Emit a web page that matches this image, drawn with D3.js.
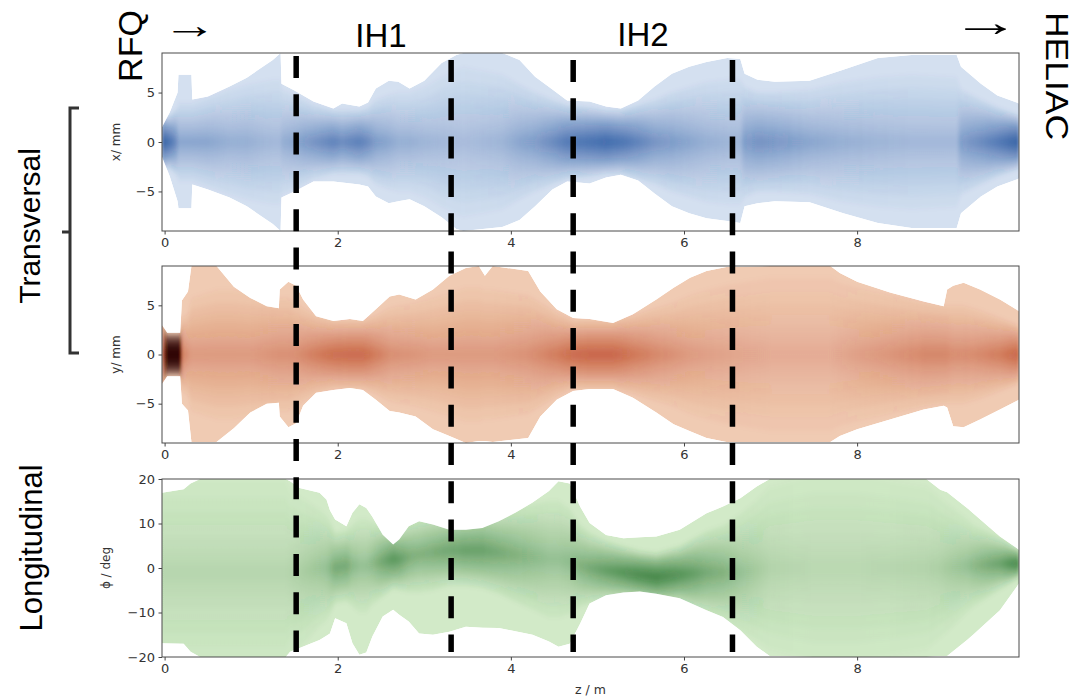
<!DOCTYPE html>
<html>
<head>
<meta charset="utf-8">
<script src="https://cdn.jsdelivr.net/npm/d3@7"></script>
<style>
body { margin: 0; background: #fff; }
svg { display: block; }
.tick text { font-family: "DejaVu Sans", sans-serif; font-size: 13px; fill: #333; }
.tick line { stroke: #444; }
.big { font-family: "Liberation Sans", Arial, sans-serif; fill: #000; }
</style>
</head>
<body>
<div id="chart"></div>
<script>
// ---- x plane (blue): z / m, envelope edges in mm, dense core half-width and core intensity
const xZ     = [-0.03, 0.06, 0.15, 0.16, 0.31, 0.32, 0.5, 0.75, 0.95, 1.1, 1.25, 1.34, 1.35, 1.5, 1.72, 1.95, 2.05, 2.25, 2.35, 2.44, 2.59, 2.7, 2.83, 3.0, 3.2, 3.37, 3.45, 3.9, 4.1, 4.28, 4.48, 4.65, 4.91, 5.1, 5.27, 5.47, 5.66, 5.86, 6.06, 6.26, 6.5, 6.65, 6.7, 6.85, 7.05, 7.45, 7.84, 8.24, 8.63, 9.15, 9.2, 9.43, 9.62, 9.87];
const xUpper = [1.5, 3.0, 5.0, 6.8, 6.8, 4.3, 4.6, 5.6, 6.5, 7.4, 8.3, 9.0, 5.9, 5.2, 4.1, 3.4, 3.9, 3.6, 4.0, 5.4, 6.2, 6.1, 5.4, 6.2, 8.0, 8.8, 9.0, 9.0, 8.3, 6.6, 5.3, 4.2, 4.1, 3.6, 3.4, 4.2, 5.6, 6.9, 7.6, 8.1, 8.5, 8.4, 6.9, 6.3, 6.1, 6.2, 7.3, 8.5, 8.8, 8.8, 7.6, 5.9, 4.7, 3.9];
const xLower = [-1.5, -3.5, -6.0, -6.7, -6.7, -4.3, -4.8, -5.6, -6.5, -7.4, -8.3, -9.0, -5.6, -5.0, -4.0, -4.0, -4.1, -4.3, -4.5, -5.5, -6.2, -6.0, -5.8, -6.5, -7.6, -8.8, -9.0, -8.6, -7.9, -6.5, -4.8, -4.0, -4.2, -3.6, -3.3, -3.9, -5.2, -6.5, -7.2, -7.7, -8.0, -8.2, -6.5, -6.2, -6.0, -6.1, -7.2, -8.2, -8.7, -8.7, -7.2, -5.5, -4.5, -3.7];
const xCore  = [1.0, 1.0, 1.3, 1.5, 1.5, 1.5, 1.7, 2.0, 2.2, 2.3, 2.4, 2.4, 2.0, 1.8, 1.4, 1.2, 1.2, 1.2, 1.3, 1.6, 1.8, 1.9, 1.9, 2.1, 2.5, 2.8, 2.9, 2.6, 2.2, 1.9, 1.6, 1.4, 1.3, 1.2, 1.2, 1.4, 1.6, 1.9, 2.1, 2.3, 2.4, 2.4, 2.1, 1.9, 1.9, 2.0, 2.3, 2.5, 2.6, 2.5, 2.0, 1.6, 1.3, 1.0];
const xPeak  = [0.9, 0.8, 0.6, 0.5, 0.5, 0.5, 0.5, 0.45, 0.45, 0.42, 0.4, 0.4, 0.45, 0.5, 0.6, 0.7, 0.65, 0.72, 0.65, 0.55, 0.5, 0.45, 0.45, 0.42, 0.4, 0.38, 0.37, 0.42, 0.5, 0.55, 0.65, 0.75, 0.8, 0.85, 0.8, 0.7, 0.6, 0.55, 0.5, 0.45, 0.42, 0.42, 0.55, 0.6, 0.58, 0.5, 0.45, 0.42, 0.4, 0.4, 0.55, 0.65, 0.75, 0.9];

// ---- y plane (red)
const yZ     = [-0.03, 0.03, 0.18, 0.2, 0.27, 0.31, 0.6, 0.8, 0.99, 1.18, 1.32, 1.33, 1.43, 1.52, 1.6, 1.75, 1.95, 2.14, 2.29, 2.44, 2.6, 2.71, 2.9, 3.1, 3.29, 3.48, 3.63, 3.7, 3.79, 4.2, 4.34, 4.53, 4.72, 4.91, 5.18, 5.41, 5.68, 5.88, 6.07, 6.26, 6.49, 7.0, 7.69, 7.8, 8.0, 8.38, 8.77, 9.0, 9.04, 9.11, 9.23, 9.42, 9.65, 9.87];
const yUpper = [3.0, 2.2, 2.2, 5.5, 6.4, 9.0, 9.0, 6.9, 5.75, 4.9, 4.7, 6.6, 7.4, 7.0, 5.6, 3.9, 3.4, 3.6, 3.4, 4.6, 5.9, 6.1, 5.6, 6.6, 8.0, 8.8, 9.0, 8.0, 9.0, 8.5, 6.4, 4.6, 3.7, 3.6, 3.2, 4.1, 5.6, 6.8, 7.8, 8.5, 8.9, 9.0, 9.0, 8.3, 7.4, 6.3, 5.4, 4.9, 6.6, 7.0, 7.3, 6.6, 5.6, 4.4];
const yLower = [-3.0, -2.2, -2.2, -5.0, -5.7, -8.9, -8.9, -7.5, -5.9, -5.0, -4.9, -6.3, -7.4, -7.0, -5.2, -3.9, -3.6, -3.4, -3.6, -4.6, -5.75, -5.9, -6.3, -7.6, -8.3, -9.0, -8.8, -8.8, -8.9, -8.5, -6.3, -4.6, -3.7, -3.5, -3.5, -4.4, -5.9, -7.1, -7.8, -8.5, -8.9, -8.9, -8.9, -8.3, -7.6, -6.6, -5.6, -5.2, -5.4, -7.3, -7.4, -6.6, -5.6, -4.6];
const yCore  = [1.5, 0.8, 0.8, 1.4, 1.6, 2.2, 2.5, 2.5, 2.4, 2.3, 2.2, 2.2, 2.2, 2.0, 1.8, 1.5, 1.3, 1.3, 1.3, 1.5, 1.8, 1.9, 2.0, 2.2, 2.4, 2.6, 2.6, 2.5, 2.5, 2.3, 2.0, 1.6, 1.3, 1.3, 1.3, 1.5, 1.8, 2.0, 2.3, 2.5, 2.7, 3.0, 3.0, 2.8, 2.6, 2.3, 2.0, 1.9, 1.9, 1.9, 1.9, 1.7, 1.4, 1.1];
const yPeak  = [0.6, 1.3, 1.3, 0.6, 0.5, 0.45, 0.45, 0.45, 0.45, 0.48, 0.5, 0.5, 0.5, 0.52, 0.55, 0.62, 0.7, 0.72, 0.72, 0.62, 0.52, 0.5, 0.48, 0.45, 0.45, 0.45, 0.45, 0.45, 0.45, 0.5, 0.55, 0.62, 0.72, 0.75, 0.75, 0.65, 0.55, 0.5, 0.45, 0.42, 0.4, 0.35, 0.35, 0.38, 0.42, 0.48, 0.55, 0.55, 0.55, 0.52, 0.52, 0.55, 0.62, 0.75];

// ---- longitudinal phase (green), with drifting core centre
const pZ      = [-0.03, 0.22, 0.3, 0.41, 1.4, 1.45, 1.56, 1.79, 1.87, 1.91, 1.97, 2.1, 2.17, 2.25, 2.33, 2.4, 2.52, 2.64, 2.71, 2.82, 2.94, 3.1, 3.29, 3.48, 3.67, 3.86, 4.05, 4.25, 4.44, 4.55, 4.68, 4.8, 4.91, 5.1, 5.3, 5.49, 5.68, 5.95, 6.26, 6.45, 6.65, 6.84, 6.99, 7.5, 8.0, 8.8, 8.96, 9.04, 9.27, 9.34, 9.65, 9.87];
const pUpper  = [16.9, 17.7, 19.0, 20, 20, 19.5, 18.0, 16.9, 15.4, 13.0, 10.9, 9.4, 12.4, 14.3, 13.5, 11.5, 7.5, 5.3, 6.4, 9.4, 10.5, 9.8, 8.6, 8.6, 9.0, 10.5, 12.4, 14.7, 17.3, 19.5, 19.0, 13.8, 10.1, 7.4, 6.7, 6.9, 7.1, 8.6, 12.3, 13.8, 15.7, 18.3, 20, 20, 20, 20, 17.6, 17.0, 13.5, 12.3, 7.1, 4.1];
const pLower  = [-16.9, -17.0, -18.8, -20, -20, -18.8, -18.0, -16.2, -15.2, -14.7, -11.3, -12.4, -16.9, -19.5, -19.0, -15.4, -10.9, -9.4, -10.5, -12.0, -14.7, -15.0, -14.3, -13.2, -13.4, -13.5, -14.2, -15.0, -16.5, -17.7, -17.0, -12.5, -8.0, -6.1, -5.5, -5.3, -5.8, -6.8, -9.5, -11.0, -14.0, -17.7, -19.8, -20, -20, -20, -19.8, -19.8, -16.2, -15.0, -9.5, -3.5];
const pCenter = [-1, -1, -1, -1, -1, -1, -1, 0, 0, 0, 0, 0.5, 0.5, 0.5, 0.5, 1, 1.5, 2, 2, 2.5, 3, 3.5, 4, 4, 4, 3.5, 3, 2.5, 2, 2, 1.5, 0.5, 0, -0.5, -1, -1.5, -2, -1.5, -1, -1, -1, -0.5, 0, 0, 0, 0, 0, 0, 0.5, 0.5, 1, 1];
const pCore   = [8, 8, 8, 8, 8, 7, 6.5, 5, 4.5, 4, 3, 3, 3.5, 4, 4, 3.5, 3, 2.5, 2.6, 3, 3.2, 3.2, 3, 3, 3.2, 3.5, 4, 4.5, 5, 5, 4.5, 3.5, 3, 2.5, 2.2, 2.0, 2.0, 2.4, 3.5, 4, 5, 6, 7, 8, 8, 7, 6, 5.5, 4, 3.5, 2.2, 1.2];
const pPeak   = [0.3, 0.3, 0.3, 0.3, 0.3, 0.32, 0.35, 0.42, 0.45, 0.5, 0.6, 0.6, 0.5, 0.45, 0.45, 0.5, 0.62, 0.72, 0.68, 0.58, 0.55, 0.58, 0.62, 0.65, 0.65, 0.6, 0.55, 0.5, 0.45, 0.45, 0.48, 0.55, 0.6, 0.68, 0.75, 0.82, 0.85, 0.75, 0.6, 0.55, 0.45, 0.38, 0.32, 0.28, 0.28, 0.32, 0.35, 0.38, 0.45, 0.5, 0.65, 0.85];

// cavity boundaries (z / m) and axis ticks
const sectionZ = [1.52, 3.31, 4.72, 6.56];
const zTicks = [0, 2, 4, 6, 8];
const mmTicks = [-5, 0, 5];
const degTicks = [-20, -10, 0, 10, 20];

const W = 1088, H = 699;
const plotLeft = 162, plotW = 857;

const svg = d3.select("#chart").append("svg")
    .attr("width", W)
    .attr("height", H);
const defs = svg.append("defs");

defs.append("filter")
    .attr("id", "soft")
    .attr("x", "-5%").attr("y", "-20%")
    .attr("width", "110%").attr("height", "140%")
    .append("feGaussianBlur")
    .attr("stdDeviation", "1.5 2.5");

const x = d3.scaleLinear().domain([-0.03, 9.87]).range([0, plotW]);

const panels = [
    {top: 53, h: 178, dom: [-9, 9], ticks: mmTicks, label: "x/ mm", labelX: -42,
     z: xZ, up: xUpper, lo: xLower, mid: null, core: xCore, peak: xPeak,
     base: "#d4e0f0", dark: "#1d4e9c", deep: "#0b2f6e"},
    {top: 266, h: 177, dom: [-9, 9], ticks: mmTicks, label: "y/ mm", labelX: -42,
     z: yZ, up: yUpper, lo: yLower, mid: null, core: yCore, peak: yPeak,
     base: "#f0cbb3", dark: "#b83a18", deep: "#2a0400"},
    {top: 479, h: 178, dom: [-20, 20], ticks: degTicks, label: "\u03d5 / deg", labelX: -52,
     z: pZ, up: pUpper, lo: pLower, mid: pCenter, core: pCore, peak: pPeak,
     base: "#d2eac8", dark: "#1f6e26", deep: "#0c3d10"}
];

// nested layers, as multiples of the core half-width
const layers = [2.6, 2.1, 1.7, 1.35, 1.0, 0.7, 0.45, 0.22];

panels.forEach((p, k) => {
    const g = svg.append("g").attr("transform", `translate(${plotLeft},${p.top})`);
    const y = d3.scaleLinear().domain(p.dom).range([p.h, 0]);

    const rows = p.z.map((z, i) => ({
        z: z,
        up: p.up[i],
        lo: p.lo[i],
        c: p.mid ? p.mid[i] : 0,
        w: p.core[i],
        pk: p.peak[i]
    }));

    const env = d3.area()
        .x(d => x(d.z))
        .y0(d => y(d.lo))
        .y1(d => y(d.up));

    defs.append("clipPath").attr("id", "env" + k)
        .append("path").attr("d", env(rows));

    // core intensity along z; very high peaks shift toward the deep colour
    const tone = d3.interpolateRgb(p.dark, p.deep);
    const grad = defs.append("linearGradient")
        .attr("id", "gr" + k)
        .attr("gradientUnits", "userSpaceOnUse")
        .attr("x1", 0).attr("x2", plotW)
        .attr("y1", 0).attr("y2", 0);
    rows.forEach(d => {
        grad.append("stop")
            .attr("offset", Math.max(0, Math.min(1, x(d.z) / plotW)))
            .attr("stop-color", tone(Math.max(0, Math.min(1, (d.pk - 0.85) / 0.45))))
            .attr("stop-opacity", Math.min(0.45, 0.24 * d.pk * d.pk));
    });

    const body = g.append("g").attr("clip-path", `url(#env${k})`);
    body.append("path").attr("d", env(rows)).attr("fill", p.base);

    const dens = body.append("g").attr("filter", "url(#soft)");
    layers.forEach(m => {
        dens.append("path")
            .attr("d", d3.area()
                .x(d => x(d.z))
                .y0(d => y(d.c - m * d.w))
                .y1(d => y(d.c + m * d.w))(rows))
            .attr("fill", `url(#gr${k})`);
    });

    // frame
    g.append("rect")
        .attr("width", plotW)
        .attr("height", p.h)
        .attr("fill", "none")
        .attr("stroke", "#4a4a4a")
        .attr("stroke-width", 1);

    const xa = g.append("g")
        .attr("transform", `translate(0,${p.h})`)
        .call(d3.axisBottom(x).tickValues(zTicks).tickSize(3.5).tickPadding(3.5).tickFormat(d3.format("d")));
    xa.select(".domain").remove();

    const ya = g.append("g")
        .call(d3.axisLeft(y).tickValues(p.ticks).tickSize(3.5).tickPadding(3.5).tickFormat(d3.format("d")));
    ya.select(".domain").remove();

    g.append("text")
        .attr("transform", `translate(${p.labelX},${p.h / 2}) rotate(-90)`)
        .attr("text-anchor", "middle")
        .attr("font-family", "DejaVu Sans, sans-serif")
        .attr("font-size", 12)
        .attr("fill", "#333")
        .text(p.label);
});

svg.append("text")
    .attr("x", plotLeft + plotW / 2)
    .attr("y", 694)
    .attr("text-anchor", "middle")
    .attr("font-family", "DejaVu Sans, sans-serif")
    .attr("font-size", 12.5)
    .attr("fill", "#333")
    .text("z / m");

// cavity boundaries
const dashTop = [56, 60, 60, 60];
svg.selectAll("line.cav")
    .data(sectionZ)
    .enter().append("line")
    .attr("class", "cav")
    .attr("x1", d => plotLeft + x(d))
    .attr("x2", d => plotLeft + x(d))
    .attr("y1", (d, i) => dashTop[i])
    .attr("y2", 652)
    .attr("stroke", "#000")
    .attr("stroke-width", 5.5)
    .attr("stroke-dasharray", "22,16.3");

// annotations
svg.append("text").attr("class", "big")
    .attr("transform", "translate(142,46) rotate(-90)")
    .attr("text-anchor", "middle")
    .attr("font-size", 34)
    .text("RFQ");

// arrows: stretched horizontally so the glyph box stays inside the page
svg.append("text").attr("class", "big")
    .attr("x", 162).attr("y", 38)
    .attr("font-size", 38)
    .attr("textLength", 55)
    .attr("lengthAdjust", "spacingAndGlyphs")
    .text("\u2192");

svg.append("text").attr("class", "big")
    .attr("x", 951).attr("y", 36)
    .attr("font-size", 40)
    .attr("textLength", 69)
    .attr("lengthAdjust", "spacingAndGlyphs")
    .text("\u2192");

svg.append("text").attr("class", "big")
    .attr("x", 381).attr("y", 47)
    .attr("text-anchor", "middle")
    .attr("font-size", 33)
    .text("IH1");

svg.append("text").attr("class", "big")
    .attr("x", 643).attr("y", 46)
    .attr("text-anchor", "middle")
    .attr("font-size", 33)
    .text("IH2");

svg.append("text").attr("class", "big")
    .attr("transform", "translate(1046,76) rotate(90)")
    .attr("text-anchor", "middle")
    .attr("font-size", 32)
    .attr("textLength", 128)
    .attr("lengthAdjust", "spacingAndGlyphs")
    .text("HELIAC");

svg.append("text").attr("class", "big")
    .attr("transform", "translate(40,226) rotate(-90)")
    .attr("text-anchor", "middle")
    .attr("font-size", 30)
    .text("Transversal");

svg.append("text").attr("class", "big")
    .attr("transform", "translate(42,548) rotate(-90)")
    .attr("text-anchor", "middle")
    .attr("font-size", 31)
    .text("Longitudinal");

// bracket grouping the transverse planes
svg.append("path")
    .attr("d", "M79,108 H70 V353 H79 M70,232 H62")
    .attr("fill", "none")
    .attr("stroke", "#333")
    .attr("stroke-width", 3);
</script>
</body>
</html>
